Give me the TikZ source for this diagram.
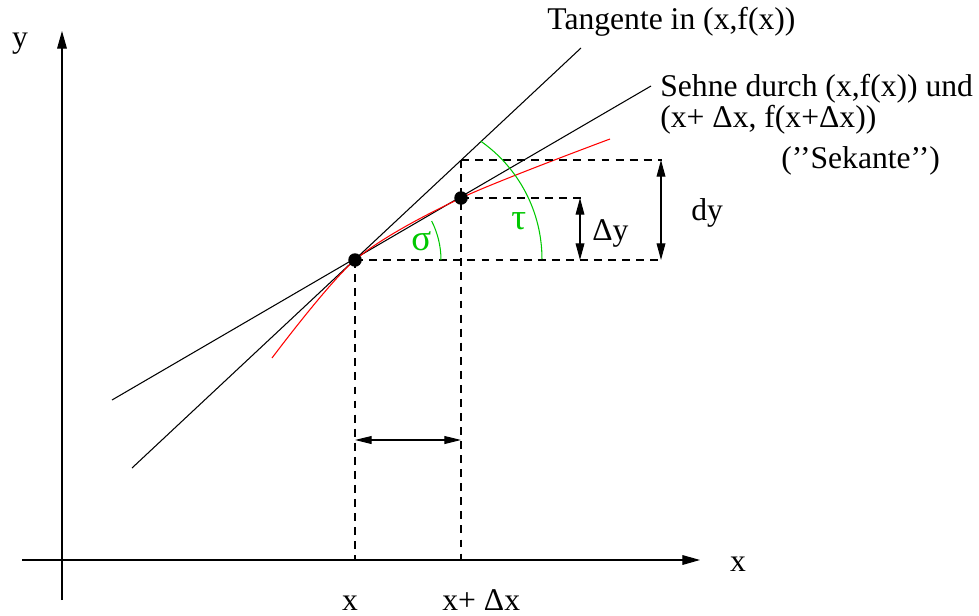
\documentclass[tikz,border=0pt]{standalone}
\usepackage{fontspec}
\setmainfont{Liberation Serif}
\usetikzlibrary{arrows.meta}
\definecolor{arcgreen}{RGB}{0,200,0}

\begin{document}
\begin{tikzpicture}[x=0.02cm,y=-0.02cm]
\tikzset{
  txt/.style={inner sep=0pt,font=\fontsize{18}{21}\selectfont},
  grk/.style={inner sep=0pt,font=\fontsize{21}{24}\selectfont,text=arcgreen},
  dot/.style={circle,fill,inner sep=0pt,minimum size=0.27cm},
  axis/.style={-{Triangle[length=10pt,width=5.5pt]},line width=0.6pt},
  dimline/.style={{Triangle[length=9.5pt,width=5pt]}-{Triangle[length=9.5pt,width=5pt]},line width=0.6pt},
  guide/.style={dash pattern=on 4.5pt off 3.5pt,line width=0.6pt},
  line/.style={line width=0.6pt}
}
\useasboundingbox (0,0) rectangle (979,615);
% axes
\coordinate (y_0) at (62,600);
\coordinate (y_1) at (62,31);
\coordinate (x_0) at (22,560);
\coordinate (x_1) at (700,560);
\draw[axis] (y_0) -- (y_1);
\draw[axis] (x_0) -- (x_1);
\node[txt,anchor=base] (ylab) at (20,48) {y};
\node[txt,anchor=base] (xlab) at (738,571) {x};
% points and lines
\coordinate (P) at (355,260);
\coordinate (Q) at (461,198);
\coordinate (t_0) at (132,468);
\coordinate (t_1) at (581,48);
\coordinate (s_0) at (112,400);
\coordinate (s_1) at (651,86);
\coordinate (f_0) at (272,358);
\coordinate (f_1) at (610,139);
\draw[line] (t_0) -- (t_1);
\draw[line] (s_0) -- (s_1);
\draw[line,red] plot[smooth] coordinates {(f_0) (P) (Q) (f_1)};
% guides
\coordinate (Px) at (355,560);
\coordinate (Qx) at (461,560);
\coordinate (Qtop) at (461,160);
\coordinate (d_top) at (662,160);
\coordinate (d_bot) at (662,260);
\coordinate (q_r) at (583,198);
\draw[guide] (P) -- (Px);
\draw[guide] (Qtop) -- (Qx);
\draw[guide] (P) -- (d_bot);
\draw[guide] (Q) -- (q_r);
\draw[guide] (Qtop) -- (d_top);
% dimensions
\coordinate (dy_0) at (661,160);
\coordinate (dy_1) at (661,260);
\coordinate (Dy_0) at (580,198);
\coordinate (Dy_1) at (580,260);
\coordinate (Dx_0) at (355,440);
\coordinate (Dx_1) at (461,440);
\draw[dimline] (dy_0) -- (dy_1);
\draw[dimline] (Dy_0) -- (Dy_1);
\draw[dimline,{Triangle[length=9.5pt,width=4.5pt]}-{Triangle[length=9.5pt,width=4.5pt]}] (Dx_0) -- (Dx_1);
\node[txt,anchor=base west] (dylab) at (691,220) {dy};
\node[txt,anchor=base west] (Dylab) at (592,240) {Δy};
% angles
\coordinate (tc) at (398,259);
\draw[arcgreen,line] ([xshift=1.72cm]P) arc[start angle=0,end angle=27,radius=1.72cm];
\draw[arcgreen,line] ([xshift=2.88cm]tc) arc[start angle=0,end angle=55,radius=2.88cm];
\node[grk,anchor=base west] (sig) at (411,250) {σ};
\node[grk,anchor=base west] (tau) at (511,229) {τ};
% dots
\node[dot] (Pd) at (P) {};
\node[dot] (Qd) at (Q) {};
% texts
\node[txt,anchor=base west] (tanlab) at (547,30) {Tangente in (x,f(x))};
\node[txt,anchor=base west,align=left,font=\fontsize{18}{15.2}\selectfont] (sehlab) at (660,127)
  {Sehne durch (x,f(x)) und\\(x+ Δx, f(x+Δx))};
\node[txt,anchor=base west] (seklab) at (781,168) {({’}{’}Sekante{’}{’})};
\node[txt,anchor=base] (xpos) at (350,610) {x};
\node[txt,anchor=base west] (xdxpos) at (442,610) {x+ Δx};
\end{tikzpicture}
\end{document}
